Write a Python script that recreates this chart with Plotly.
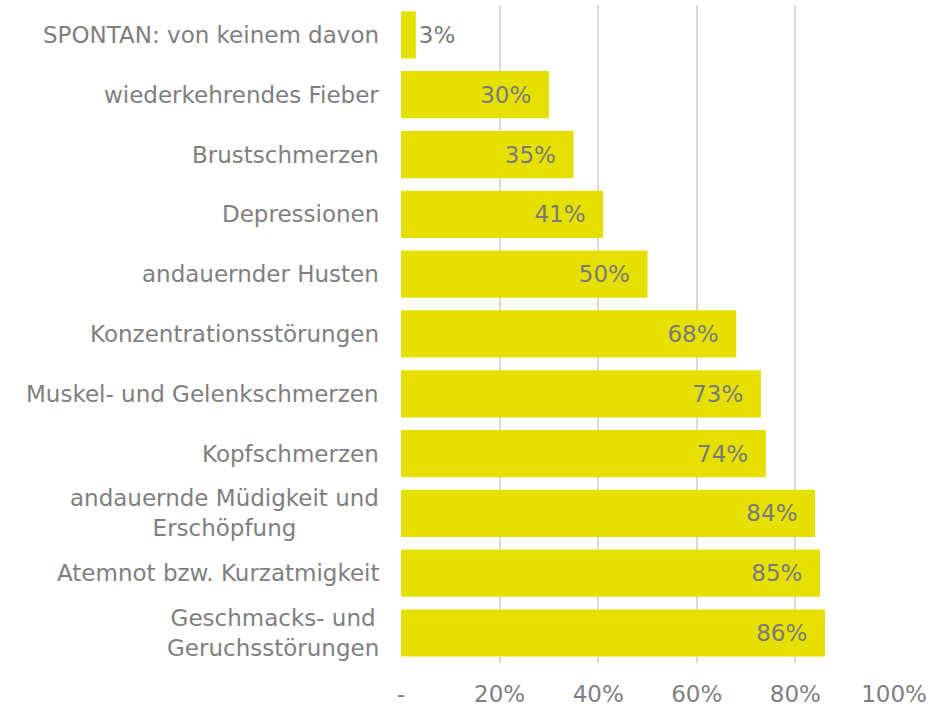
import plotly.graph_objects as go

categories = [
    "SPONTAN: von keinem davon",
    "wiederkehrendes Fieber",
    "Brustschmerzen",
    "Depressionen",
    "andauernder Husten",
    "Konzentrationsstörungen",
    "Muskel- und Gelenkschmerzen",
    "Kopfschmerzen",
    "andauernde Müdigkeit und<br>Erschöpfung",
    "Atemnot bzw. Kurzatmigkeit",
    "Geschmacks- und<br>Geruchsstörungen",
]
values = [3, 30, 35, 41, 50, 68, 73, 74, 84, 85, 86]
tick_vals = [0, 20, 40, 60, 80, 100]
tick_text = ["-", "20%", "40%", "60%", "80%", "100%"]

FONT = "DejaVu Sans, Verdana, sans-serif"
GREY = "#7f7f7f"
BAR = "#e6e000"
FS = 23

fig = go.Figure()
fig.add_trace(go.Bar(
    x=values,
    y=categories,
    orientation="h",
    marker=dict(color=BAR, line=dict(width=0)),
    text=[f"{v}%\u00a0\u00a0" if v > 10 else f"{v}%" for v in values],
    textposition="auto",
    insidetextanchor="end",
    textfont=dict(family=FONT, size=FS, color="#7a7a7a"),
    cliponaxis=False,
    hoverinfo="skip",
))

for c in categories:
    fig.add_annotation(
        x=0, xref="paper", y=c, yref="y",
        text=c, showarrow=False,
        xanchor="right", yanchor="middle", align="center",
        xshift=-20,
        font=dict(family=FONT, size=FS, color=GREY),
    )

fig.update_layout(
    width=930, height=706,
    margin=dict(l=401, r=36, t=5, b=43, autoexpand=False),
    paper_bgcolor="white", plot_bgcolor="white",
    bargap=0.21,
    showlegend=False,
    font=dict(family=FONT, size=FS, color=GREY),
    xaxis=dict(
        range=[0, 100],
        tickvals=tick_vals, ticktext=tick_text,
        showgrid=True, gridcolor="#d9d9d9", gridwidth=2,
        zeroline=False, showline=False, automargin=False,
        ticks="", ticklabelstandoff=15,
        tickfont=dict(family=FONT, size=FS, color=GREY),
    ),
    yaxis=dict(
        categoryorder="array", categoryarray=categories,
        autorange="reversed", automargin=False,
        showticklabels=False, showgrid=False, zeroline=False, showline=False,
        ticks="",
    ),
)

fig.write_html("out.html", config={"displayModeBar": False},
               post_script="document.body.style.margin='0';")
